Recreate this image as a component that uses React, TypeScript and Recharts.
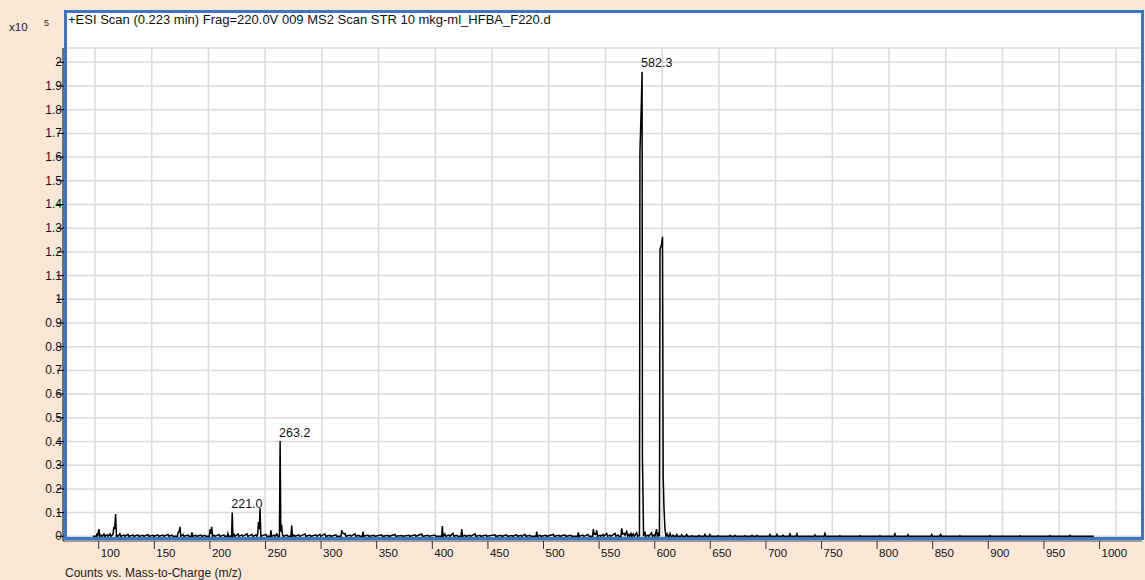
import { ComposedChart, Line, Scatter, XAxis, YAxis, CartesianGrid } from 'recharts';

const FONT = '"Liberation Sans", Arial, sans-serif';

// profile: [m/z, counts x10^5]
const spectrum: [number, number][] = [
  [98.2, 0], [101.2, 0], [101.8, 0.012], [102.4, 0], [103.0, 0.02], [103.5, 0.03], [104.2, 0], [105.3, 0.005], [106.5, 0],
  [107.9, 0.01], [108.6, 0], [110.6, 0.006], [111.4, 0], [113.2, 0.01], [114.0, 0], [115.9, 0.008], [116.6, 0.04],
  [117.3, 0.03], [118.2, 0.094], [118.9, 0], [119.6, 0.005], [120.5, 0], [122.0, 0.01], [122.8, 0], [125.6, 0.005],
  [126.4, 0], [129.1, 0.008], [129.9, 0], [133.5, 0.005], [134.3, 0], [137.9, 0.006], [138.7, 0], [142.3, 0.004],
  [143.1, 0], [146.7, 0.007], [147.5, 0], [151.1, 0.004], [151.9, 0], [155.5, 0.006], [156.3, 0], [159.9, 0.005],
  [160.7, 0], [164.4, 0.008], [165.2, 0], [167.9, 0.005], [168.7, 0], [172.6, 0], [173.2, 0.015], [174.2, 0.02],
  [174.9, 0.04], [175.6, 0], [177.6, 0.008], [178.4, 0], [182.0, 0.005], [182.8, 0], [184.9, 0], [185.5, 0.017],
  [186.2, 0], [189.0, 0.004], [189.8, 0], [193.4, 0.005], [194.2, 0], [197.0, 0.004], [197.8, 0], [200.8, 0],
  [201.4, 0.03], [202.1, 0.01], [202.9, 0.04], [203.6, 0], [204.9, 0.005], [205.7, 0], [209.3, 0.008], [210.1, 0],
  [213.7, 0.005], [214.5, 0], [216.6, 0], [217.2, 0.012], [217.9, 0], [220.4, 0], [221.0, 0.1], [221.6, 0],
  [222.6, 0.008], [223.4, 0], [226.1, 0.01], [226.9, 0], [229.6, 0.006], [230.4, 0], [234.0, 0.01], [234.8, 0],
  [238.4, 0.008], [239.2, 0], [241.9, 0.006], [242.7, 0], [243.5, 0.01], [244.1, 0.06], [244.8, 0.03], [245.5, 0.118],
  [246.2, 0], [250.7, 0.008], [251.5, 0], [254.5, 0], [255.1, 0.025], [255.8, 0], [257.8, 0.005], [258.6, 0],
  [260.4, 0.01], [261.2, 0], [262.6, 0], [263.2, 0.402], [263.8, 0.02], [264.5, 0.05], [265.2, 0.008], [266.0, 0],
  [269.3, 0.005], [270.1, 0], [272.8, 0], [273.4, 0.045], [274.1, 0], [275.4, 0.005], [276.2, 0], [279.8, 0.006],
  [280.6, 0], [285.1, 0.01], [285.9, 0], [289.5, 0.005], [290.3, 0], [294.8, 0.006], [295.6, 0], [298.3, 0.008],
  [299.1, 0], [302.7, 0.01], [303.5, 0], [307.2, 0.004], [308.0, 0], [312.4, 0.006], [313.2, 0], [316.9, 0],
  [317.5, 0.025], [318.3, 0.015], [319.6, 0.01], [320.4, 0.012], [321.2, 0], [324.8, 0.005], [325.6, 0],
  [329.2, 0.01], [330.0, 0], [332.7, 0.004], [333.5, 0], [335.7, 0], [336.3, 0.02], [337.0, 0], [340.7, 0.005],
  [341.5, 0], [345.9, 0.004], [346.7, 0], [352.7, 0.006], [353.5, 0], [358.3, 0.004], [359.1, 0], [364.5, 0.008],
  [365.3, 0], [370.6, 0.003], [371.4, 0], [376.8, 0.004], [377.6, 0], [382.1, 0.006], [382.9, 0], [388.0, 0.01],
  [388.8, 0], [393.6, 0.004], [394.4, 0], [399.7, 0.005], [400.5, 0], [405.6, 0], [406.2, 0.043], [406.9, 0],
  [408.5, 0.01], [409.3, 0], [412.1, 0.005], [412.9, 0], [415.6, 0.012], [416.4, 0], [419.1, 0.004], [419.9, 0],
  [422.7, 0], [423.3, 0.03], [424.0, 0], [426.2, 0.005], [427.0, 0], [430.6, 0.004], [431.4, 0], [435.0, 0.01],
  [435.8, 0], [439.4, 0.004], [440.2, 0], [444.7, 0.005], [445.5, 0], [452.6, 0.006], [453.4, 0], [457.9, 0.004],
  [458.7, 0], [462.9, 0.006], [463.7, 0], [467.6, 0.003], [468.4, 0], [471.7, 0.007], [472.5, 0], [475.5, 0.004],
  [476.3, 0], [479.1, 0.008], [479.9, 0], [483.5, 0.004], [484.3, 0], [488.8, 0], [489.4, 0.02], [490.1, 0],
  [492.3, 0.005], [493.1, 0], [497.6, 0.004], [498.4, 0], [504.0, 0.008], [504.8, 0], [509.0, 0.004], [509.8, 0],
  [514.3, 0.006], [515.1, 0], [519.6, 0.004], [520.4, 0], [525.4, 0], [526.0, 0.017], [526.7, 0], [530.2, 0.005],
  [531.0, 0], [534.6, 0.008], [535.4, 0], [538.7, 0], [539.3, 0.03], [540.0, 0.01], [540.8, 0.008], [541.6, 0.01],
  [542.3, 0.025], [543.0, 0], [545.2, 0.005], [546.0, 0], [547.8, 0.008], [548.6, 0], [551.1, 0.012], [551.9, 0],
  [554.0, 0.005], [554.8, 0], [558.4, 0.012], [559.2, 0], [561.1, 0.006], [561.9, 0], [563.7, 0], [564.3, 0.034],
  [565.0, 0.01], [566.3, 0.012], [567.1, 0.005], [568.7, 0.02], [569.5, 0], [570.7, 0.008], [571.5, 0],
  [572.5, 0.012], [573.3, 0], [574.5, 0.01], [575.3, 0], [577.5, 0.015], [578.3, 0], [579.5, 0.005], [580.0, 0],
  [580.4, 1.62], [581.5, 1.8], [582.3, 1.96], [582.6, 0.33], [583.1, 0.17], [583.6, 0], [584.8, 0.02], [585.5, 0],
  [587.5, 0.005], [588.3, 0], [590.7, 0.015], [591.4, 0], [592.8, 0.005], [593.6, 0], [595.1, 0.03], [595.8, 0],
  [596.7, 0.01], [597.6, 0], [598.1, 1.21], [599.4, 1.23], [600.3, 1.264], [600.9, 0.25], [601.6, 0.12],
  [602.5, 0.03], [603.3, 0], [604.3, 0.01], [605.1, 0], [606.1, 0], [606.9, 0.012], [607.7, 0], [608.8, 0],
  [609.6, 0.005], [610.4, 0], [612.0, 0], [612.8, 0.008], [613.6, 0], [616.4, 0], [617.2, 0.006], [618.0, 0],
  [620.8, 0], [621.6, 0.008], [622.4, 0], [625.5, 0], [626.3, 0.003], [627.1, 0], [631.7, 0], [632.5, 0.004],
  [633.3, 0], [636.9, 0], [637.7, 0.008], [638.5, 0], [641.3, 0], [642.1, 0.008], [642.9, 0], [648.4, 0],
  [649.2, 0.003], [650.0, 0], [659.0, 0], [659.8, 0.004], [660.6, 0], [663.4, 0], [664.2, 0.004], [665.0, 0],
  [672.2, 0], [673.0, 0.003], [673.8, 0], [678.4, 0], [679.2, 0.004], [680.0, 0], [682.8, 0], [683.6, 0.004],
  [684.4, 0], [694.2, 0], [695.0, 0.008], [695.8, 0], [700.4, 0], [701.2, 0.008], [702.0, 0], [705.7, 0],
  [706.5, 0.005], [707.3, 0], [711.9, 0], [712.7, 0.01], [713.5, 0], [718.0, 0], [718.8, 0.01], [719.6, 0],
  [733.9, 0], [734.7, 0.006], [735.5, 0], [742.7, 0], [743.5, 0.012], [744.3, 0], [755.9, 0], [756.7, 0.003],
  [757.5, 0], [773.6, 0], [774.4, 0.003], [775.2, 0], [791.2, 0], [792.0, 0.003], [792.8, 0], [804.4, 0],
  [805.2, 0.01], [806.0, 0], [815.9, 0], [816.7, 0.007], [817.5, 0], [836.8, 0], [837.6, 0.008], [838.4, 0],
  [844.7, 0], [845.5, 0.008], [846.3, 0], [861.7, 0], [862.5, 0.003], [863.3, 0], [888.2, 0], [889.0, 0.003],
  [889.8, 0], [914.6, 0], [915.4, 0.003], [916.2, 0], [941.0, 0], [941.8, 0.003], [942.6, 0], [958.7, 0],
  [959.5, 0.004], [960.3, 0], [980.6, 0],
];

const peakLabels = ['221.0', '263.2', '582.3'];
const xTicks = [100, 150, 200, 250, 300, 350, 400, 450, 500, 550, 600, 650, 700, 750, 800, 850, 900, 950, 1000];
const yTicks = [0, 0.1, 0.2, 0.3, 0.4, 0.5, 0.6, 0.7, 0.8, 0.9, 1, 1.1, 1.2, 1.3, 1.4, 1.5, 1.6, 1.7, 1.8, 1.9, 2];

const data = spectrum.map(([mz, counts]) => ({ mz, counts }));
const labelData = peakLabels.map((text) => {
  const mz = Number(text);
  const pt = data.find((d) => d.mz === mz);
  return { mz, counts: pt ? pt.counts : 0, text };
});

const YTick = (props: any) => {
  const { x, y, payload } = props;
  return (
    <g>
      <line x1={x - 6} x2={x + 4} y1={y} y2={y} stroke="#000" />
      <text x={x - 1} y={y} dy={4} textAnchor="end" fontSize={12} fontFamily={FONT} fill="#111">
        {String(payload.value)}
      </text>
    </g>
  );
};

const XTick = (props: any) => {
  const { x, y, payload } = props;
  return (
    <g>
      <line x1={x} x2={x} y1={y} y2={y + 8} stroke="#333" />
      <text x={x + 2} y={y + 16} fontSize={11.5} fontFamily={FONT} fill="#111">
        {payload.value}
      </text>
    </g>
  );
};

const PeakLabel = (props: any) => {
  const { cx, cy, payload } = props;
  return (
    <text x={cx - 1} y={cy - 4.5} fontSize={12.5} fontFamily={FONT} fill="#111">
      {payload.text}
    </text>
  );
};

const App = () => {
  return (
    <div style={{ position: 'absolute', left: 0, top: 0, width: 1145, height: 580, background: '#FBE7D6', overflow: 'hidden' }}>
      <div style={{ position: 'absolute', left: 64, top: 10, width: 1080, height: 530, background: '#fff' }} />
      <div style={{ position: 'absolute', left: 0, top: 0 }}>
        <ComposedChart width={1145} height={580} data={data} margin={{ top: 48, right: 3, bottom: 0, left: 0 }}>
          <CartesianGrid stroke="#dadada" strokeWidth={1.5} />
          <XAxis dataKey="mz" type="number" domain={[71.8, 1023]} ticks={xTicks} allowDataOverflow hide height={0} />
          <XAxis
            xAxisId="ruler"
            dataKey="mz"
            type="number"
            domain={[67.9, 1038.2]}
            ticks={xTicks}
            allowDataOverflow
            height={39}
            tickSize={0}
            tickMargin={0}
            tickLine={false}
            axisLine={{ stroke: '#555' }}
            tick={<XTick />}
            interval={0}
          />
          <YAxis
            type="number"
            domain={[-0.0198, 2.0603]}
            ticks={yTicks}
            allowDataOverflow
            width={63}
            tickSize={0}
            tickMargin={0}
            tickLine={false}
            axisLine={{ stroke: '#000' }}
            tick={<YTick />}
            interval={0}
          />
          <Line
            dataKey="counts"
            type="linear"
            stroke="#000"
            strokeWidth={1.5}
            dot={false}
            activeDot={false}
            isAnimationActive={false}
          />
          <Scatter data={labelData} dataKey="counts" shape={<PeakLabel />} isAnimationActive={false} />
        </ComposedChart>
      </div>
      <div
        style={{
          position: 'absolute', left: 64, top: 10, width: 1080, height: 530,
          border: '3px solid #3B74C9', boxSizing: 'border-box', pointerEvents: 'none',
        }}
      />
      <svg width={1145} height={580} style={{ position: 'absolute', left: 0, top: 0, pointerEvents: 'none' }}>
        <text x={68} y={24} fontSize={13} fontFamily={FONT} fill="#111">
          +ESI Scan (0.223 min) Frag=220.0V 009 MS2 Scan STR 10 mkg-ml_HFBA_F220.d
        </text>
        <text x={9} y={31} fontSize={11.5} fontFamily={FONT} fill="#222">x10</text>
        <text x={44} y={26} fontSize={9} fontFamily={FONT} fill="#222">5</text>
        <text x={65} y={577} fontSize={12} fontFamily={FONT} fill="#222">Counts vs. Mass-to-Charge (m/z)</text>
      </svg>
    </div>
  );
};

export default App;
